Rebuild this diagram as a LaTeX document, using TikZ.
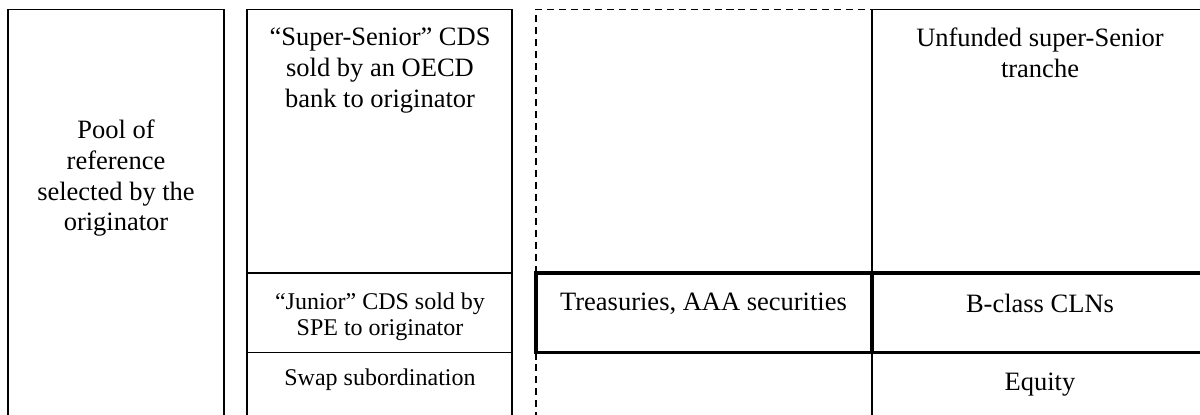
\documentclass[tikz,border=0pt]{standalone}
\usepackage{fontspec}
\setmainfont{Liberation Serif}

\begin{document}
\begin{tikzpicture}[line width=1.1pt,
    celltext/.style={align=center, inner sep=0pt, anchor=north,
      font=\fontsize{18.85}{21.8}\selectfont},
    smalltext/.style={celltext, font=\fontsize{17.07}{18.5}\selectfont},
    dashedline/.style={dash pattern=on 5pt off 3.5pt},
    thickline/.style={line width=2.6pt}]
      \useasboundingbox (0, 0) rectangle (30, 10.375);
      % reference pool
      \draw (0.2, 0) -- (0.2, 10.14) -- (5.6, 10.14) -- (5.6, 0);
      % credit default swaps
      \draw (6.175, 0) -- (6.175, 10.14) -- (12.8, 10.14) -- (12.8, 0);
      \draw (6.175, 3.55) -- (12.8, 3.55);
      \draw (6.175, 1.5625) -- (12.8, 1.5625);
      % SPE assets
      \draw [dashedline] (13.4, 3.55) -- (13.4, 10.14) -- (21.8, 10.14);
      \draw [dashedline] (13.4, 1.5625) -- (13.4, 0);
      % SPE liabilities
      \draw (21.8, 0) -- (21.8, 10.14) -- (30, 10.14);
      \draw [thickline] (13.4, 1.5625) rectangle (21.8, 3.55);
      \draw [thickline] (21.8, 1.5625) rectangle (30.3, 3.55);
      \node [celltext] (pool) at (2.9, 7.39) {Pool of\\reference\\selected by the\\originator};
      \node [celltext] (senior) at (9.5, 9.69) {“Super-Senior” CDS\\sold by an OECD\\bank to originator};
      \node [smalltext] (junior) at (9.5, 3.08) {“Junior” CDS sold by\\SPE to originator};
      \node [smalltext] (swap) at (9.5, 1.175) {Swap subordination};
      \node [celltext] (treasuries) at (17.5875, 3.08) {Treasuries, AAA securities};
      \node [celltext] (unfunded) at (26, 9.7) {Unfunded super-Senior\\tranche};
      \node [celltext] (clns) at (26, 3.05) {B-class CLNs};
      \node [celltext] (equity) at (26, 1.06) {Equity};
    \end{tikzpicture}
\end{document}
